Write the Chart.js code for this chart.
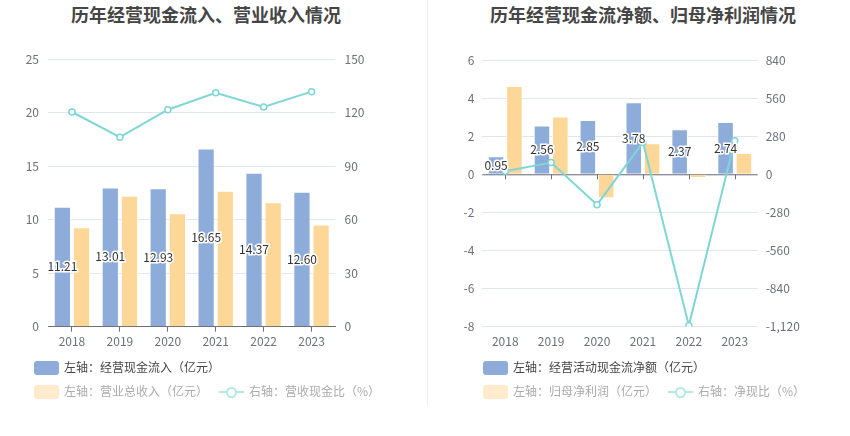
<!DOCTYPE html>
<html>
<head>
<meta charset="utf-8">
<script src="https://cdn.jsdelivr.net/npm/chart.js@4/dist/chart.umd.min.js"></script>
<style>
  body { margin: 0; background: #fff; font-family: 'Noto Sans CJK SC', 'Noto Sans', sans-serif; }
  .wrap { position: relative; width: 850px; height: 436px; overflow: hidden; }
  .title { position: absolute; top: 1px; font-size: 18px; font-weight: bold; color: #464646; text-align: center; }
  .sep { position: absolute; left: 427px; top: 0; width: 1px; height: 405px; background: #eee; }
  .box { position: absolute; }
  .leg { position: absolute; font-size: 12px; color: #464646; white-space: nowrap; line-height: 14px; }
  .leg.fade { color: #ababab; }
  .sw { position: absolute; width: 25px; height: 14px; border-radius: 3px; }
  .ln { position: absolute; width: 25px; height: 14px; }
  .ln:before { content: ''; position: absolute; left: 0; right: 0; top: 6px; height: 2px; background: #b3e7e8; }
  .ln:after { content: ''; position: absolute; left: 7px; top: 2px; width: 7px; height: 7px; border: 2px solid #b3e7e8; border-radius: 50%; background: #fff; }
</style>
</head>
<body>
<div class="wrap">
  <div class="title" style="left:0;width:412px;">历年经营现金流入、营业收入情况</div>
  <div class="title" style="left:437px;width:412px;">历年经营现金流净额、归母净利润情况</div>
  <div class="sep"></div>
  <div class="box" style="left:0;top:30px;width:425px;height:330px;"><canvas id="c1"></canvas></div>
  <div class="box" style="left:427px;top:30px;width:423px;height:330px;"><canvas id="c2"></canvas></div>

  <div class="sw" style="left:34px;top:361px;background:#8eacd9;"></div>
  <div class="leg" style="left:64px;top:360px;">左轴：经营现金流入（亿元）</div>
  <div class="sw" style="left:34px;top:385px;background:#fdebcc;"></div>
  <div class="leg fade" style="left:64px;top:384px;">左轴：营业总收入（亿元）</div>
  <div class="ln" style="left:219px;top:385px;"></div>
  <div class="leg fade" style="left:249px;top:384px;">右轴：营收现金比（%）</div>

  <div class="sw" style="left:483px;top:361px;background:#8eacd9;"></div>
  <div class="leg" style="left:513px;top:360px;">左轴：经营活动现金流净额（亿元）</div>
  <div class="sw" style="left:483px;top:385px;background:#fdebcc;"></div>
  <div class="leg fade" style="left:513px;top:384px;">左轴：归母净利润（亿元）</div>
  <div class="ln" style="left:668px;top:385px;"></div>
  <div class="leg fade" style="left:698px;top:384px;">右轴：净现比（%）</div>
</div>
<script>
// data
const years = ['2018', '2019', '2020', '2021', '2022', '2023'];

const cashIn = [11.21, 13.01, 12.93, 16.65, 14.37, 12.60];
const revenue = [9.29, 12.22, 10.60, 12.69, 11.63, 9.54];
const cashRatio = [120.3, 106.2, 121.6, 131.1, 123.1, 131.7];

const netCash = [0.95, 2.56, 2.85, 3.78, 2.37, 2.74];
const netProfit = [4.64, 3.03, -1.26, 1.63, -0.19, 1.12];
const netRatio = [22, 86, -223, 235, -1112, 247];

const BLUE = '#8eacd9';
const YELLOW = '#fdd797';
const TEAL = '#7fd6d6';
const GRID = '#e0e6f1';
const AXIS = '#6e7079';
const FONT = "'Noto Sans CJK SC', 'Noto Sans', sans-serif";

// labels in the middle of the blue bars, dark text with white outline
const barLabels = {
  id: 'barLabels',
  afterDatasetsDraw(chart) {
    const ctx = chart.ctx;
    const meta = chart.getDatasetMeta(0);
    const data = chart.data.datasets[0].data;
    ctx.save();
    ctx.font = '12px ' + FONT;
    ctx.textAlign = 'center';
    ctx.textBaseline = 'middle';
    ctx.lineWidth = 3;
    ctx.strokeStyle = '#fff';
    ctx.fillStyle = '#333';
    meta.data.forEach((bar, i) => {
      const y = (bar.y + bar.base) / 2;
      const t = data[i].toFixed(2);
      ctx.strokeText(t, bar.x, y);
      ctx.fillText(t, bar.x, y);
    });
    ctx.restore();
  }
};

// tick marks hanging from the zero line (right chart)
const zeroTicks = {
  id: 'zeroTicks',
  beforeDatasetsDraw(chart) {
    const x = chart.scales.x;
    const y0 = chart.scales.y.getPixelForValue(0);
    const ctx = chart.ctx;
    ctx.save();
    ctx.strokeStyle = AXIS;
    ctx.lineWidth = 1;
    ctx.beginPath();
    ctx.moveTo(chart.chartArea.left, y0 + 0.5);
    ctx.lineTo(chart.chartArea.right, y0 + 0.5);
    x.ticks.forEach((t, i) => {
      const px = Math.round(x.getPixelForTick(i)) + 0.5;
      ctx.moveTo(px, y0);
      ctx.lineTo(px, y0 + 5);
    });
    ctx.stroke();
    ctx.restore();
  }
};

function makeChart(id, cfg) {
  const bars = {
    type: 'bar', yAxisID: 'y', borderColor: '#fff', borderWidth: 1,
    categoryPercentage: 0.8, barPercentage: 0.9, order: 2
  };
  return new Chart(document.getElementById(id), {
    type: 'bar',
    data: {
      labels: years,
      datasets: [
        Object.assign({}, bars, { label: cfg.names[0], data: cfg.blue, backgroundColor: BLUE }),
        Object.assign({}, bars, { label: cfg.names[1], data: cfg.yellow, backgroundColor: YELLOW }),
        {
          type: 'line', label: cfg.names[2], data: cfg.line, yAxisID: 'y1', order: 1,
          borderColor: TEAL, borderWidth: 2, backgroundColor: '#fff',
          pointRadius: 3, pointBorderWidth: 1.5, pointBackgroundColor: '#fff', pointBorderColor: TEAL,
          tension: 0
        }
      ]
    },
    options: {
      responsive: true,
      maintainAspectRatio: false,
      animation: false,
      layout: { padding: { top: cfg.top, left: 0, right: 0, bottom: 0 } },
      plugins: { legend: { display: false }, tooltip: { enabled: false } },
      scales: {
        x: {
          afterFit: s => { s.height = cfg.xh; },
          grid: {
            display: cfg.bottomAxis, drawOnChartArea: false, offset: false,
            tickLength: 5, color: AXIS
          },
          border: { display: cfg.bottomAxis, color: AXIS },
          ticks: { color: AXIS, font: { size: 12, family: FONT }, padding: 3 }
        },
        y: {
          position: 'left',
          min: cfg.yMin, max: cfg.yMax,
          afterFit: s => { s.width = cfg.lw; },
          afterBuildTicks: s => { s.ticks = cfg.yTicks.map(v => ({ value: v })); },
          grid: { color: GRID, drawTicks: false },
          border: { display: false, width: 0 },
          ticks: { color: AXIS, font: { size: 12, family: FONT }, padding: cfg.lp }
        },
        y1: {
          position: 'right',
          min: cfg.rMin, max: cfg.rMax,
          afterFit: s => { s.width = cfg.rw; },
          afterBuildTicks: s => { s.ticks = cfg.rTicks.map(v => ({ value: v })); },
          grid: { display: false, drawOnChartArea: false, drawTicks: false },
          border: { display: false, width: 0 },
          ticks: { color: AXIS, font: { size: 12, family: FONT }, padding: cfg.rp,
            callback: v => v.toLocaleString('en-US') }
        }
      }
    },
    plugins: cfg.bottomAxis ? [barLabels] : [zeroTicks, barLabels]
  });
}

makeChart('c1', {
  names: ['经营现金流入', '营业总收入', '营收现金比'],
  blue: cashIn, yellow: revenue, line: cashRatio,
  yMin: 0, yMax: 25, yTicks: [0, 5, 10, 15, 20, 25],
  rMin: 0, rMax: 150, rTicks: [0, 30, 60, 90, 120, 150],
  top: 29, xh: 33.3, lw: 48, rw: 89.5, lp: 9, rp: 9, bottomAxis: true
});

makeChart('c2', {
  names: ['经营活动现金流净额', '归母净利润', '净现比'],
  blue: netCash, yellow: netProfit, line: netRatio,
  yMin: -8, yMax: 6, yTicks: [-8, -6, -4, -2, 0, 2, 4, 6],
  rMin: -1120, rMax: 840, rTicks: [-1120, -840, -560, -280, 0, 280, 560, 840],
  top: 30, xh: 33.3, lw: 55.3, rw: 92.3, lp: 8, rp: 8, bottomAxis: false
});
</script>
</body>
</html>
